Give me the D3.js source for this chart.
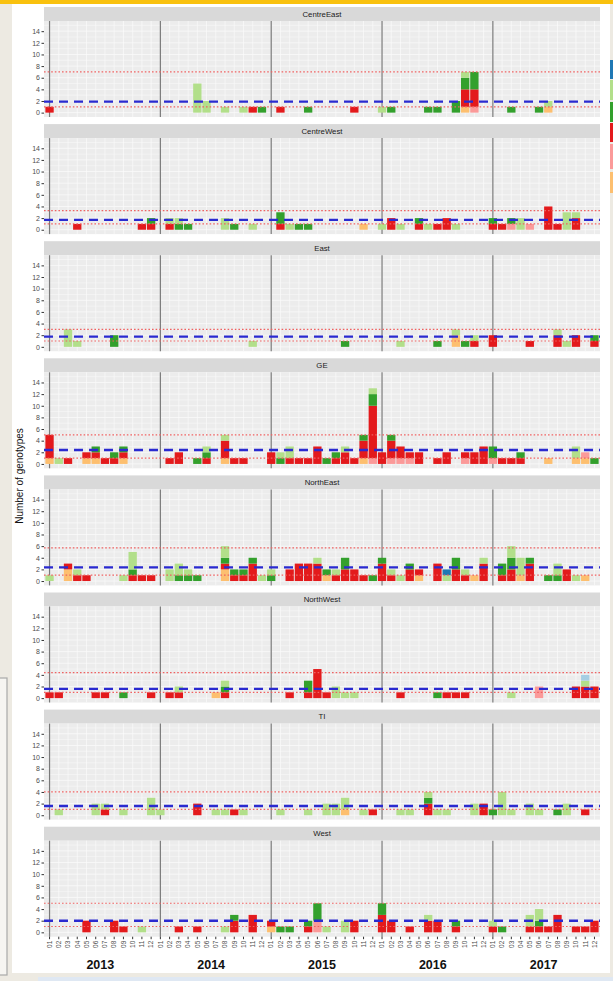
<!DOCTYPE html>
<html>
<head>
<meta charset="utf-8">
<script src="https://cdn.jsdelivr.net/npm/d3@7"></script>
<style>
  html, body { margin: 0; padding: 0; background: #edeae2; }
  svg { display: block; font-family: "Liberation Sans", Arial, sans-serif; }
</style>
</head>
<body>
<svg id="chart" width="613" height="981"></svg>
<script>
// Regions shown as facets, top to bottom
const regions = ["CentreEast", "CentreWest", "East", "GE", "NorthEast", "NorthWest", "TI", "West"];

// Genotype groups, in stacking order from the bottom of each bar
const groups = ["g7", "g5", "g6", "g4", "g3", "g2", "g1"];
const groupColors = ["#FDBF6F", "#FB9A99", "#E31A1C", "#33A02C", "#B2DF8A", "#1F78B4", "#A6CEE3"];

// Axis labels
const years = ["2013", "2014", "2015", "2016", "2017"];
const monthLabels = ["01", "02", "03", "04", "05", "06", "07", "08", "09", "10", "11", "12"];
const yTicks = [0, 2, 4, 6, 8, 10, 12, 14];

// Monthly counts: [month index 1..60, g7, g5, g6, g4, g3, g2, g1]
const centreEast = [
  [1,0,0,1,0,0,0,0],[17,0,0,0,0,5,0,0],[18,0,0,0,0,2,0,0],[20,0,0,0,0,1,0,0],
  [22,0,0,0,0,1,0,0],[23,0,0,1,0,0,0,0],[24,0,0,0,1,0,0,0],[26,0,0,1,0,0,0,0],
  [29,0,0,0,1,0,0,0],[34,0,0,1,0,0,0,0],[37,0,0,0,0,1,0,0],[38,0,0,0,1,0,0,0],
  [42,0,0,0,1,0,0,0],[43,0,0,0,1,0,0,0],[45,0,0,0,2,0,0,0],[46,1,0,3,2,1,0,0],
  [47,0,1,3,3,0,0,0],[51,0,0,0,1,0,0,0],[54,0,0,0,1,0,0,0],[55,1,0,0,0,1,0,0]
];
const centreWest = [
  [4,0,0,1,0,0,0,0],[11,0,0,1,0,0,0,0],[12,0,0,1,1,0,0,0],[14,0,0,1,0,1,0,0],
  [15,0,0,0,1,1,0,0],[16,0,0,0,1,0,0,0],[20,0,0,0,0,2,0,0],[21,0,0,0,1,0,0,0],
  [23,0,0,0,0,1,0,0],[26,0,0,1,2,0,0,0],[27,0,0,0,0,1,0,0],[28,0,0,0,1,0,0,0],
  [29,0,0,0,1,0,0,0],[35,1,0,0,0,0,0,0],[37,0,0,0,0,1,0,0],[38,0,0,2,0,0,0,0],
  [39,0,0,0,0,1,0,0],[41,0,0,1,1,0,0,0],[42,0,0,0,0,1,0,0],[43,0,0,1,0,0,0,0],
  [44,0,0,2,0,0,0,0],[45,0,0,0,0,1,0,0],[49,0,0,1,1,0,0,0],[50,0,0,1,0,0,0,0],
  [51,0,1,0,1,0,0,0],[52,0,0,0,0,2,0,0],[53,0,1,0,0,0,0,0],[55,0,0,4,0,0,0,0],
  [56,0,0,1,0,0,0,0],[57,0,0,0,0,3,0,0],[58,0,0,2,0,1,0,0]
];
const east = [
  [3,0,0,0,0,3,0,0],[4,0,0,0,0,1,0,0],[8,0,0,0,2,0,0,0],[23,0,0,0,0,1,0,0],
  [33,0,0,0,1,0,0,0],[39,0,0,0,0,1,0,0],[43,0,0,0,1,0,0,0],[45,2,0,0,0,1,0,0],
  [46,0,0,0,1,0,0,0],[47,0,0,1,0,1,0,0],[49,0,0,2,0,0,0,0],[53,0,0,1,0,0,0,0],
  [56,0,0,2,0,1,0,0],[57,0,0,0,0,1,0,0],[58,0,0,2,0,0,0,0],[60,0,0,1,1,0,0,0]
];
const ge = [
  [1,1,0,4,0,0,0,0],[2,0,0,0,0,1,0,0],[3,0,0,1,0,0,0,0],[5,1,0,1,0,0,0,0],
  [6,1,0,1,1,0,0,0],[7,0,0,1,0,0,0,0],[8,0,0,1,1,0,0,0],[9,1,0,1,1,0,0,0],
  [14,0,0,1,0,0,0,0],[15,0,0,2,0,0,0,0],[17,0,0,0,1,0,0,0],[18,0,0,1,1,1,0,0],
  [20,1,0,3,0,1,0,0],[21,0,0,1,0,0,0,0],[22,0,0,1,0,0,0,0],[25,0,0,2,0,0,0,0],
  [26,0,0,0,1,1,0,0],[27,0,0,1,0,2,0,0],[28,0,0,1,0,0,0,0],[29,0,0,1,0,0,0,0],
  [30,0,0,3,0,0,0,0],[31,0,0,0,1,0,0,0],[32,0,0,1,1,0,0,0],[33,0,0,2,0,1,0,0],
  [34,0,0,1,0,0,0,0],[35,1,0,3,1,0,0,0],[36,0,1,9,2,1,0,0],[37,0,0,2,0,0,0,0],
  [38,0,1,3,1,0,0,0],[39,0,1,2,0,0,0,0],[40,0,1,1,0,0,0,0],[41,0,0,2,0,0,0,0],
  [43,0,0,1,0,0,0,0],[44,0,0,2,0,0,0,0],[46,0,1,1,0,0,0,0],[47,0,0,2,0,0,0,0],
  [48,0,0,3,0,0,0,0],[49,0,1,0,2,0,0,0],[50,0,0,1,0,0,0,0],[51,0,0,1,0,0,0,0],
  [52,0,0,1,1,0,0,0],[55,1,0,0,0,0,0,0],[58,1,0,0,0,2,0,0],[59,1,1,0,0,0,0,0],
  [60,0,0,0,1,0,0,0]
];
const northEast = [
  [1,0,0,0,0,1,0,0],[3,2,0,1,0,0,0,0],[4,0,0,1,0,1,0,0],[5,0,0,1,0,0,0,0],
  [9,0,0,0,0,1,0,0],[10,0,0,1,1,3,0,0],[11,0,0,1,0,0,0,0],[12,0,0,1,0,0,0,0],
  [14,0,0,0,0,2,0,0],[15,0,0,0,1,2,0,0],[16,0,0,0,1,1,0,0],[17,0,0,0,1,0,0,0],
  [20,2,0,1,1,2,0,0],[21,0,0,1,1,0,0,0],[22,0,0,1,1,0,0,0],[23,0,0,3,1,0,0,0],
  [24,0,0,0,0,1,0,0],[25,0,0,0,1,1,0,0],[27,0,0,2,0,0,0,0],[28,0,0,3,0,0,0,0],
  [29,0,0,3,0,0,0,0],[30,0,0,3,0,1,0,0],[31,1,0,0,1,0,0,0],[32,0,0,1,0,1,0,0],
  [33,0,0,2,2,0,0,0],[34,0,0,2,0,0,0,0],[35,0,0,1,0,0,0,0],[36,0,0,0,1,0,0,0],
  [37,0,0,3,1,0,0,0],[38,0,0,1,0,1,0,0],[39,0,0,0,0,1,0,0],[40,0,0,2,1,0,0,0],
  [41,1,0,1,0,0,0,0],[43,0,0,3,0,0,0,0],[44,0,0,0,0,1,1,0],[45,0,0,2,2,0,0,0],
  [46,0,0,1,0,1,0,0],[47,1,0,0,0,0,0,0],[48,0,0,3,0,1,0,0],[50,0,0,1,2,0,0,0],
  [51,0,0,2,2,2,0,0],[52,1,0,0,0,3,0,0],[53,0,0,3,1,0,0,0],[55,0,0,0,1,0,0,0],
  [56,0,0,0,1,2,0,0],[57,0,0,2,0,0,0,0],[58,0,0,0,0,1,0,0],[59,1,0,0,0,0,0,0]
];
const northWest = [
  [1,0,0,1,0,0,0,0],[2,0,0,1,0,0,0,0],[6,0,0,1,0,0,0,0],[7,0,0,1,0,0,0,0],
  [9,0,0,0,1,0,0,0],[12,0,0,1,0,0,0,0],[14,0,0,1,0,0,0,0],[15,0,0,1,0,1,0,0],
  [19,1,0,0,0,0,0,0],[20,0,0,1,1,1,0,0],[27,0,0,1,0,0,0,0],[29,0,0,1,2,0,0,0],
  [30,0,0,5,0,0,0,0],[31,0,0,1,0,0,0,0],[32,0,0,0,0,2,0,0],[33,0,0,0,0,1,0,0],
  [34,0,0,0,0,1,0,0],[39,0,0,1,0,0,0,0],[43,0,0,0,1,0,0,0],[44,0,0,1,0,0,0,0],
  [45,0,0,1,0,0,0,0],[46,0,0,1,0,0,0,0],[51,0,0,0,0,1,0,0],[54,0,2,0,0,0,0,0],
  [58,0,0,2,0,0,0,0],[59,0,0,2,0,1,0,1],[60,0,0,2,0,0,0,0]
];
const ti = [
  [2,0,0,0,0,1,0,0],[6,0,0,0,0,2,0,0],[7,0,0,1,0,1,0,0],[9,0,0,0,0,1,0,0],
  [12,0,0,0,0,3,0,0],[13,0,0,0,0,1,0,0],[17,0,0,2,0,0,0,0],[19,0,0,0,0,1,0,0],
  [20,0,0,0,0,1,0,0],[21,0,0,1,0,0,0,0],[22,0,0,0,0,1,0,0],[26,0,0,0,0,1,0,0],
  [29,0,0,0,0,1,0,0],[31,0,0,0,0,2,0,0],[32,0,0,0,0,2,0,0],[33,1,0,0,0,2,0,0],
  [35,0,0,0,0,1,0,0],[36,0,0,1,0,0,0,0],[39,0,0,0,0,1,0,0],[40,0,0,0,0,1,0,0],
  [42,0,0,2,1,1,0,0],[43,0,0,0,0,1,0,0],[44,0,0,0,0,1,0,0],[47,0,0,0,0,2,0,0],
  [48,0,0,2,0,0,0,0],[49,0,0,0,1,0,0,0],[50,0,0,0,0,4,0,0],[51,0,0,0,0,1,0,0],
  [53,0,0,0,0,2,0,0],[54,0,0,0,0,1,0,0],[56,0,0,0,1,0,0,0],[57,0,0,0,0,2,0,0],
  [59,0,0,1,0,0,0,0]
];
const west = [
  [5,0,0,2,0,0,0,0],[8,0,0,2,0,0,0,0],[9,0,0,1,0,0,0,0],[11,0,0,0,0,1,0,0],
  [15,0,0,1,0,0,0,0],[17,0,0,1,0,0,0,0],[20,0,0,0,0,1,0,0],[21,0,0,2,1,0,0,0],
  [23,0,0,3,0,0,0,0],[25,1,0,1,0,0,0,0],[26,0,0,0,1,0,0,0],[27,0,0,0,1,0,0,0],
  [29,0,0,1,1,0,0,0],[30,0,2,0,3,0,0,0],[31,0,0,0,0,1,0,0],[33,0,0,0,0,2,0,0],
  [34,0,0,2,0,0,0,0],[37,0,0,3,2,0,0,0],[38,0,0,2,0,0,0,0],[40,0,0,1,0,0,0,0],
  [42,0,0,2,0,1,0,0],[43,0,0,2,0,0,0,0],[45,0,0,1,1,0,0,0],[49,0,0,1,0,1,0,0],
  [50,0,0,0,1,0,0,0],[53,0,0,1,0,2,0,0],[54,0,0,1,1,2,0,0],[55,0,0,1,0,0,0,0],
  [56,0,0,3,0,0,0,0],[58,0,0,1,0,0,0,0],[59,0,0,1,0,0,0,0],[60,0,0,2,0,0,0,0]
];
const regionCounts = [centreEast, centreWest, east, ge, northEast, northWest, ti, west];

// Reference levels per region: mean (blue dashed), upper and lower limits (red dotted)
const meanLevel  = [1.9, 1.7, 1.75, 2.4, 2.35, 1.6, 1.6, 2.0];
const upperLevel = [7.0, 3.3, 3.0, 5.0, 5.7, 4.4, 4.0, 5.0];
const lowerLevel = [1.0, 1.0, 1.0, 1.0, 1.0, 1.0, 1.0, 1.0];

// ---- layout ----
const svg = d3.select("#chart");
const W = 613, H = 981;
const left = 44, right = 600;
const firstStrip = 7, panelStep = 117.1, stripH = 14, plotH = 96;

// page frame
svg.append("rect").attr("width", W).attr("height", H).attr("fill", "#edeae2");
svg.append("rect").attr("x", 0).attr("y", 0).attr("width", W).attr("height", 4).attr("fill", "#f9c10e");
svg.append("rect").attr("x", -2).attr("y", 678).attr("width", 9).attr("height", 297)
  .attr("fill", "#f6f5f1").attr("stroke", "#a9a9a9").attr("stroke-width", 1.2);
svg.append("rect").attr("x", 12).attr("y", 4).attr("width", 598).attr("height", 969).attr("fill", "#ffffff");
svg.append("rect").attr("x", 38).attr("y", 977).attr("width", 575).attr("height", 4).attr("fill", "#dfe8f3");

// legend keys cut off at the right edge
const edgeKeys = [
  {c: "#1F78B4", y0: 60, y1: 79}, {c: "#B2DF8A", y0: 80, y1: 100}, {c: "#33A02C", y0: 102, y1: 122},
  {c: "#E31A1C", y0: 123, y1: 142}, {c: "#FB9A99", y0: 144, y1: 169}, {c: "#FDBF6F", y0: 172, y1: 193}
];
svg.selectAll("rect.edgekey").data(edgeKeys).join("rect").attr("class", "edgekey")
  .attr("x", 610).attr("width", 3).attr("y", d => d.y0).attr("height", d => d.y1 - d.y0).attr("fill", d => d.c);

const months = d3.range(1, 61);
const x = d3.scaleBand().domain(months).range([left, right]).paddingInner(0.1).paddingOuter(0.15);
const xc = m => x(m) + x.bandwidth() / 2;

const stack = d3.stack().keys(groups.map((g, i) => i + 1)).value((d, k) => d[k]);

regions.forEach((name, r) => {
  const top = firstStrip + r * panelStep;
  const pTop = top + stripH, pBot = pTop + plotH;
  const y = d3.scaleLinear().domain([-0.75, 15.75]).range([pBot, pTop]);
  const g = svg.append("g");

  // strip
  g.append("rect").attr("x", left).attr("y", top).attr("width", right - left).attr("height", stripH).attr("fill", "#d9d9d9");
  g.append("text").attr("x", (left + right) / 2).attr("y", top + stripH / 2 + 2.7)
    .attr("text-anchor", "middle").attr("font-size", 7.8).attr("fill", "#1a1a1a").text(name);

  // panel background and grid
  g.append("rect").attr("x", left).attr("y", pTop).attr("width", right - left).attr("height", plotH).attr("fill", "#ececec");
  g.selectAll("line.hg").data(d3.range(0, 16)).join("line").attr("class", "hg")
    .attr("x1", left).attr("x2", right).attr("y1", d => y(d)).attr("y2", d => y(d))
    .attr("stroke", "#fafafa").attr("stroke-width", d => d % 2 === 0 ? 0.8 : 0.5);
  g.selectAll("line.vg").data(months).join("line").attr("class", "vg")
    .attr("y1", pTop).attr("y2", pBot).attr("x1", xc).attr("x2", xc)
    .attr("stroke", "#fafafa").attr("stroke-width", 0.7);

  // year separators
  g.selectAll("line.yr").data(years.map((v, i) => 1 + 12 * i)).join("line").attr("class", "yr")
    .attr("y1", pTop).attr("y2", pBot).attr("x1", xc).attr("x2", xc)
    .attr("stroke", "#7a7a7a").attr("stroke-width", 1.2);

  // stacked bars
  const series = stack(regionCounts[r]);
  series.forEach((s, k) => {
    g.selectAll(null).data(s.filter(d => d[1] > d[0])).join("rect")
      .attr("x", d => x(d.data[0])).attr("width", x.bandwidth())
      .attr("y", d => y(d[1])).attr("height", d => y(d[0]) - y(d[1]))
      .attr("fill", groupColors[k]);
  });

  // reference lines
  [upperLevel[r], lowerLevel[r]].forEach(v => {
    g.append("line").attr("x1", left).attr("x2", right).attr("y1", y(v)).attr("y2", y(v))
      .attr("stroke", "#ee6262").attr("stroke-width", 1.2).attr("stroke-dasharray", "1.6,2");
  });
  g.append("line").attr("x1", left).attr("x2", right).attr("y1", y(meanLevel[r])).attr("y2", y(meanLevel[r]))
    .attr("stroke", "#2a2ad0").attr("stroke-width", 2.4).attr("stroke-dasharray", "9,6");

  // y axis
  const ya = g.append("g").attr("transform", `translate(${left},0)`)
    .call(d3.axisLeft(y).tickValues(yTicks).tickSize(2.5).tickPadding(1.5));
  ya.select(".domain").remove();
  ya.selectAll("line").attr("stroke", "#333");
  ya.selectAll("text").attr("font-size", 7).attr("fill", "#4d4d4d").attr("font-family", "Liberation Sans, Arial, sans-serif");

  // x axis on the bottom panel only
  if (r === regions.length - 1) {
    const xa = g.append("g").attr("transform", `translate(0,${pBot})`)
      .call(d3.axisBottom(x).tickSize(2.5).tickFormat(m => monthLabels[(m - 1) % 12]));
    xa.select(".domain").remove();
    xa.selectAll("line").attr("stroke", "#333");
    xa.selectAll("text").attr("font-size", 6.5).attr("fill", "#4d4d4d")
      .attr("font-family", "Liberation Sans, Arial, sans-serif")
      .attr("transform", "rotate(-90)").attr("text-anchor", "end")
      .attr("x", -4).attr("y", 0).attr("dy", "0.35em");

    g.selectAll("text.year").data(years).join("text").attr("class", "year")
      .attr("x", (d, i) => (xc(1 + 12 * i) + xc(12 + 12 * i)) / 2)
      .attr("y", 969).attr("text-anchor", "middle")
      .attr("font-size", 12.5).attr("font-weight", "bold").attr("fill", "#111").text(d => d);
  }
});

// y axis title
svg.append("text").attr("transform", "translate(23,476) rotate(-90)")
  .attr("text-anchor", "middle").attr("font-size", 10).attr("fill", "#111").text("Number of genotypes");
</script>
</body>
</html>
